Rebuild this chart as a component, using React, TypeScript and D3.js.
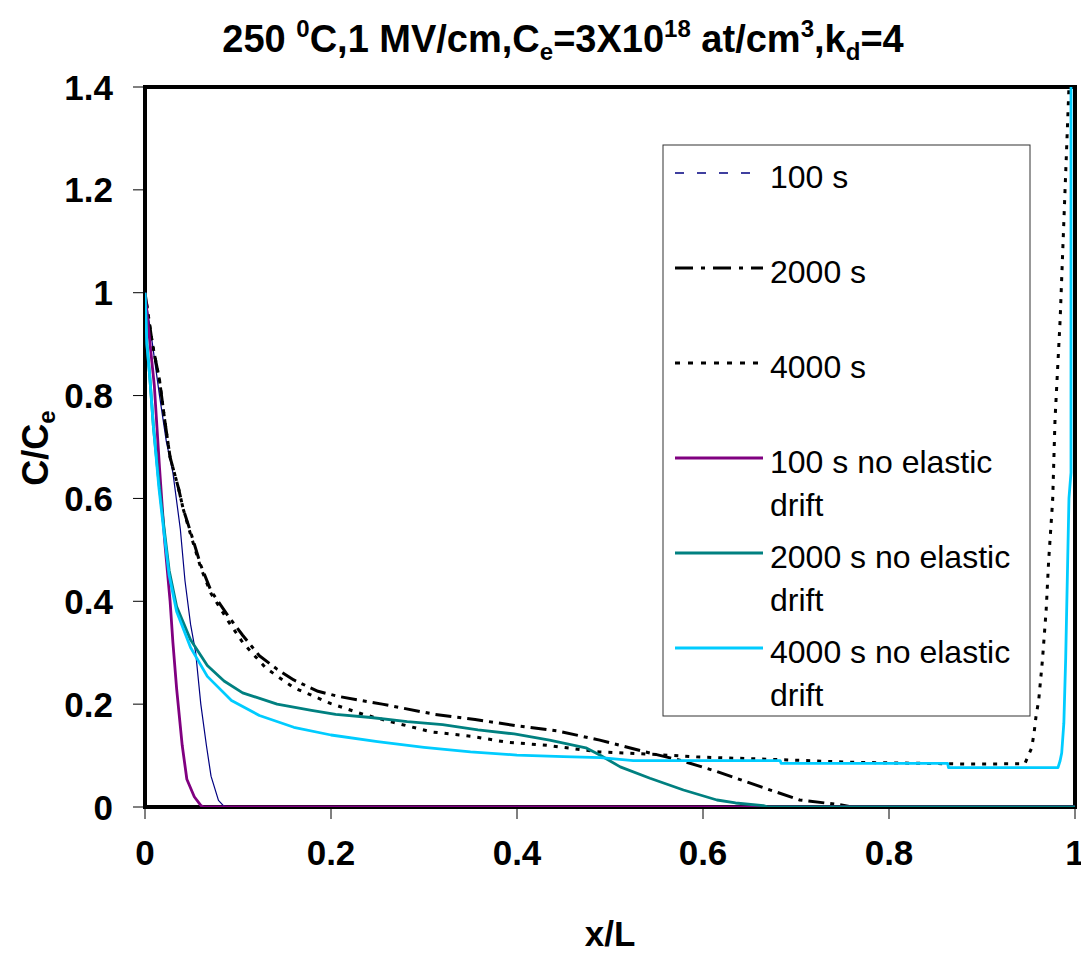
import React from "react";
import * as d3 from "d3";

type Pt = [number, number];

const xTicks = [0, 0.2, 0.4, 0.6, 0.8, 1];
const yTicks = [0, 0.2, 0.4, 0.6, 0.8, 1, 1.2, 1.4];
const xTickLabels = ["0", "0.2", "0.4", "0.6", "0.8", "1"];
const yTickLabels = ["0", "0.2", "0.4", "0.6", "0.8", "1", "1.2", "1.4"];

const s100: Pt[] = [
  [0, 1.0], [0.008, 0.9], [0.0156, 0.8], [0.023, 0.71], [0.03, 0.65], [0.038, 0.54],
  [0.043, 0.44], [0.049, 0.355], [0.0545, 0.3], [0.06, 0.2], [0.066, 0.12], [0.071, 0.06],
  [0.079, 0.013], [0.084, 0.003], [0.09, 0], [1, 0],
];

const s2000: Pt[] = [
  [0, 1.0], [0.008, 0.9], [0.0156, 0.83], [0.021, 0.755], [0.027, 0.68], [0.036, 0.62],
  [0.041, 0.58], [0.049, 0.535], [0.06, 0.47], [0.071, 0.42], [0.09, 0.37], [0.105, 0.334],
  [0.123, 0.294], [0.142, 0.268], [0.16, 0.247], [0.186, 0.225], [0.208, 0.215], [0.255, 0.2],
  [0.312, 0.18], [0.355, 0.17], [0.4, 0.158], [0.443, 0.148], [0.489, 0.13], [0.536, 0.108],
  [0.575, 0.091], [0.615, 0.069], [0.661, 0.04], [0.704, 0.0136], [0.747, 0.0045], [0.76, 0], [1, 0],
];

const s4000: Pt[] = [
  [0, 1.0], [0.008, 0.9], [0.0156, 0.83], [0.021, 0.755], [0.027, 0.68], [0.036, 0.62],
  [0.041, 0.58], [0.049, 0.53], [0.06, 0.465], [0.071, 0.415], [0.09, 0.36], [0.105, 0.32],
  [0.13, 0.27], [0.16, 0.232], [0.2, 0.201], [0.235, 0.18], [0.266, 0.165], [0.308, 0.146],
  [0.351, 0.1375], [0.389, 0.126], [0.432, 0.12], [0.489, 0.107], [0.551, 0.102], [0.597, 0.097],
  [0.668, 0.093], [0.76, 0.087], [0.883, 0.0836], [0.946, 0.084], [0.9534, 0.115], [0.956, 0.144],
  [0.958, 0.175], [0.961, 0.208], [0.965, 0.286], [0.969, 0.383], [0.9717, 0.48], [0.976, 0.597],
  [0.9785, 0.753], [0.984, 0.947], [0.9935, 1.4], [0.995, 1.5],
];

const s100ne: Pt[] = [
  [0, 1.0], [0.006, 0.89], [0.01, 0.82], [0.0156, 0.66], [0.021, 0.52], [0.027, 0.4],
  [0.03, 0.32], [0.034, 0.23], [0.04, 0.12], [0.045, 0.054], [0.053, 0.02], [0.06, 0.003],
  [0.063, 0], [1, 0],
];

const s2000ne: Pt[] = [
  [0, 1.0], [0.002, 0.9], [0.005, 0.84], [0.009, 0.74], [0.015, 0.63], [0.02, 0.55],
  [0.026, 0.46], [0.034, 0.39], [0.049, 0.325], [0.067, 0.275], [0.085, 0.245], [0.105, 0.222],
  [0.142, 0.2], [0.179, 0.188], [0.205, 0.18], [0.243, 0.174], [0.282, 0.166], [0.32, 0.16],
  [0.358, 0.15], [0.397, 0.142], [0.435, 0.13], [0.474, 0.115], [0.49, 0.1], [0.511, 0.078],
  [0.543, 0.056], [0.579, 0.033], [0.615, 0.0136], [0.635, 0.0078], [0.665, 0.0026], [0.67, 0], [1, 0],
];

const s4000ne: Pt[] = [
  [0, 1.0], [0.002, 0.9], [0.005, 0.84], [0.009, 0.74], [0.015, 0.62], [0.02, 0.54],
  [0.026, 0.45], [0.034, 0.38], [0.049, 0.31], [0.067, 0.254], [0.093, 0.207], [0.123, 0.178],
  [0.16, 0.155], [0.2, 0.14], [0.25, 0.127], [0.3, 0.116], [0.35, 0.107], [0.4, 0.101],
  [0.45, 0.098], [0.49, 0.096], [0.525, 0.09], [0.683, 0.09], [0.684, 0.085], [0.863, 0.085],
  [0.864, 0.0765], [0.9817, 0.0765], [0.984, 0.09], [0.9857, 0.105], [0.988, 0.163], [0.99, 0.29],
  [0.9935, 0.6], [0.9957, 0.65], [0.9957, 1.5],
];

const seriesNames = [
  "100 s",
  "2000 s",
  "4000 s",
  "100 s no elastic drift",
  "2000 s no elastic drift",
  "4000 s no elastic drift",
];
const seriesData = [s100, s2000, s4000, s100ne, s2000ne, s4000ne];

const styles = [
  { color: "#000080", width: 1.2, dash: null as string | null, legendDash: "9,13" as string | null },
  { color: "#000000", width: 3, dash: "16,6,4,6", legendDash: "18,8,4,8" },
  { color: "#000000", width: 3, dash: "4,7", legendDash: "5,8" },
  { color: "#800080", width: 2.8, dash: null, legendDash: null },
  { color: "#008080", width: 2.8, dash: null, legendDash: null },
  { color: "#00CCFF", width: 2.8, dash: null, legendDash: null },
];

const legendLines = [
  ["100 s"],
  ["2000 s"],
  ["4000 s"],
  ["100 s no elastic", "drift"],
  ["2000 s no elastic", "drift"],
  ["4000 s no elastic", "drift"],
];

const FONT = "'Liberation Sans', Arial, Helvetica, sans-serif";

export default function App() {
  const W = 1089;
  const H = 957;
  const left = 145, right = 1075, top = 87, bottom = 807;
  const x = d3.scaleLinear().domain([0, 1]).range([left, right]);
  const y = d3.scaleLinear().domain([0, 1.4]).range([bottom, top]);
  const line = d3
    .line<Pt>()
    .x((d) => x(d[0]))
    .y((d) => y(d[1]));

  const legX = 663, legY = 145, legW = 367, legH = 571;
  const entryY = [177, 272, 367, 462, 557, 652];

  return (
    <div style={{ margin: -8 }}>
      <svg width={W} height={H} style={{ display: "block", background: "#fff" }} fontFamily={FONT}>
        <defs>
          <clipPath id="plotclip">
            <rect x={left} y={top} width={right - left} height={bottom - top} />
          </clipPath>
        </defs>
        <rect x={0} y={0} width={W} height={H} fill="#fff" />

        {/* title */}
        <text x={563} y={52} textAnchor="middle" fontWeight="bold" fontSize={38}>
          <tspan>250 </tspan>
          <tspan fontSize={24} dy={-15}>0</tspan>
          <tspan dy={15}>C,1 MV/cm,C</tspan>
          <tspan fontSize={24} dy={8}>e</tspan>
          <tspan dy={-8}>=3X10</tspan>
          <tspan fontSize={24} dy={-15}>18</tspan>
          <tspan dy={15}> at/cm</tspan>
          <tspan fontSize={24} dy={-15}>3</tspan>
          <tspan dy={15}>,k</tspan>
          <tspan fontSize={24} dy={8}>d</tspan>
          <tspan dy={-8}>=4</tspan>
        </text>

        {/* ticks */}
        {yTicks.map((t) => (
          <line key={"yt" + t} x1={left - 12} x2={left} y1={y(t)} y2={y(t)} stroke="#000" strokeWidth={1} />
        ))}
        {xTicks.map((t) => (
          <line key={"xt" + t} x1={x(t)} x2={x(t)} y1={bottom} y2={bottom + 12} stroke="#000" strokeWidth={1} />
        ))}
        {yTicks.map((t, i) => (
          <text key={"yl" + t} x={113} y={y(t) + 12.5} textAnchor="end" fontWeight="bold" fontSize={35}>
            {yTickLabels[i]}
          </text>
        ))}
        {xTicks.map((t, i) => (
          <text key={"xl" + t} x={x(t)} y={865} textAnchor="middle" fontWeight="bold" fontSize={35}>
            {xTickLabels[i]}
          </text>
        ))}

        {/* frame */}
        <rect x={left} y={top} width={right - left} height={bottom - top} fill="none" stroke="#000" strokeWidth={4} />

        {/* series */}
        <g clipPath="url(#plotclip)">
          {seriesData.map((d, i) => (
            <path
              key={seriesNames[i]}
              d={line(d) || ""}
              fill="none"
              stroke={styles[i].color}
              strokeWidth={styles[i].width}
              strokeDasharray={styles[i].dash || undefined}
              strokeLinejoin="round"
            />
          ))}
        </g>

        {/* axis titles */}
        <text x={610} y={946} textAnchor="middle" fontWeight="bold" fontSize={35}>x/L</text>
        <text transform="translate(48,448) rotate(-90)" textAnchor="middle" fontWeight="bold" fontSize={36}>
          <tspan>C/C</tspan>
          <tspan fontSize={24} dy={7}>e</tspan>
        </text>

        {/* legend */}
        <rect x={legX} y={legY} width={legW} height={legH} fill="#fff" stroke="#333" strokeWidth={1} />
        {legendLines.map((lines, i) => (
          <g key={"lg" + i}>
            <line
              x1={675}
              x2={763}
              y1={entryY[i] - 4}
              y2={entryY[i] - 4}
              stroke={styles[i].color}
              strokeWidth={i === 0 ? 1.5 : styles[i].width}
              strokeDasharray={styles[i].legendDash || undefined}
            />
            {lines.map((t, j) => (
              <text key={j} x={770} y={entryY[i] + 11 + j * 43} fontSize={32}>
                {t}
              </text>
            ))}
          </g>
        ))}
      </svg>
    </div>
  );
}
